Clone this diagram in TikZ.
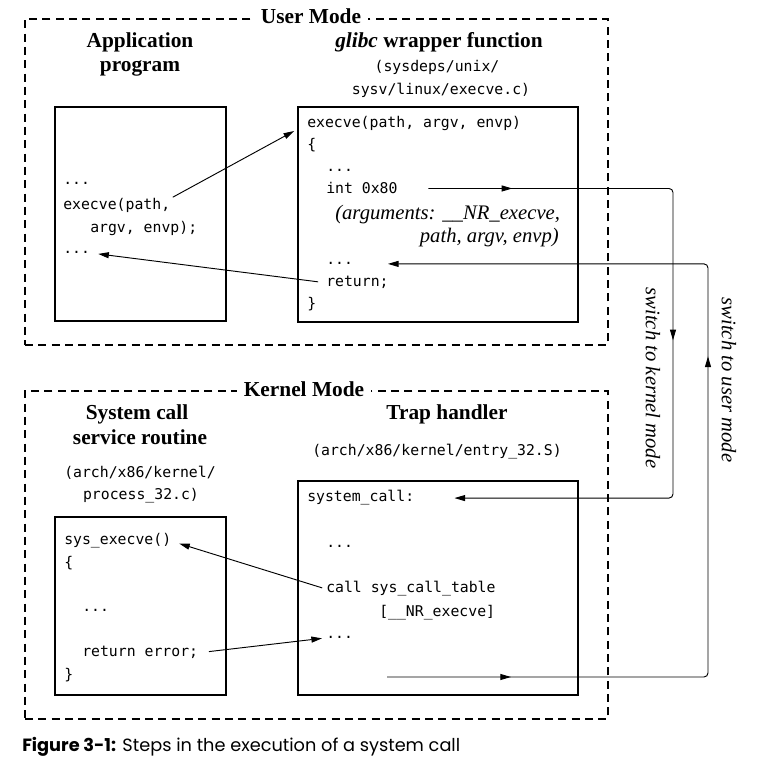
\documentclass[tikz,border=0pt]{standalone}
\usepackage{fontspec}
\setmainfont{Liberation Serif}
\newfontfamily\codefont{DejaVu Sans Mono}
\newfontfamily\capfont{Poppins}
\usetikzlibrary{arrows.meta,fit,decorations.markings}

\begin{document}
\begin{tikzpicture}[x=0.75pt,y=-0.75pt,>={Triangle[length=8pt,width=4.5pt]}]
  \tikzstyle{modebox}=[draw,dash pattern=on 6pt off 4pt,line width=1.3pt,inner sep=0pt]
  \tikzstyle{codebox}=[draw,line width=1.3pt,inner sep=0pt]
  \tikzstyle{title}=[fill=white,inner xsep=5pt,inner ysep=2pt,anchor=base,font=\bfseries\fontsize{16}{19}\selectfont]
  \tikzstyle{head}=[inner sep=0pt,anchor=base,font=\bfseries\fontsize{16}{19}\selectfont]
  \tikzstyle{src}=[inner sep=0pt,anchor=base,font=\codefont\fontsize{11.1}{13}\selectfont]
  \tikzstyle{code}=[inner sep=0pt,anchor=base west,font=\codefont\fontsize{11.1}{13}\selectfont]
  \tikzstyle{note}=[inner sep=0pt,font=\itshape\fontsize{15.5}{18}\selectfont]
  \tikzstyle{arr}=[line width=0.7pt,->]
  \tikzstyle{switch}=[line width=0.7pt,rounded corners=3pt,->,postaction={decorate}]
  \useasboundingbox (0,0) rectangle (769,766);
  % user and kernel mode frames
  \node[modebox,fit={(25,19) (608,345)}] (user) {};
  \node[modebox,fit={(25,391) (608,719)}] (kernel) {};
  \node[title] (usertitle) at (311,24) {User Mode};
  \node[title] (kerneltitle) at (304,397) {Kernel Mode};
  % boxes
  \node[codebox,fit={(55,107) (226,321)}] (app) {};
  \node[codebox,fit={(298,107) (578,322)}] (wrap) {};
  \node[codebox,fit={(55,517) (226,695)}] (sysbox) {};
  \node[codebox,fit={(298,481) (578,695)}] (trap) {};
  % headings
  \node[head] (apphead1) at (140,48) {Application};
  \node[head] (apphead2) at (140,72) {program};
  \node[head] (wraphead) at (439,48) {\textit{glibc} wrapper function};
  \node[src] (wrapsrc1) at (437,72) {(sysdeps/unix/};
  \node[src] (wrapsrc2) at (441,95) {sysv/linux/execve.c)};
  \node[head] (syshead1) at (137,420) {System call};
  \node[head] (syshead2) at (140,445) {service routine};
  \node[src] (syssrc1) at (140,478) {(arch/x86/kernel/};
  \node[src] (syssrc2) at (141,500) {process\_32.c)};
  \node[head] (traphead) at (447,420) {Trap handler};
  \node[src] (trapsrc) at (437,456) {(arch/x86/kernel/entry\_32.S)};
  % application program
  \node[code] (a1) at (63,185) {...};
  \node[code] (acall) at (63,210) {execve(path,};
  \node[code] (a3) at (90,233) {argv, envp);};
  \node[code] (aret) at (63,254) {...};
  % glibc wrapper
  \node[code] (w1) at (307,128) {execve(path, argv, envp)};
  \node[code] (w2) at (307,150) {\{};
  \node[code] (w3) at (326,172) {...};
  \node[code] (wint) at (326,194) {int 0x80};
  \node[note,anchor=base west] (args1) at (335,220) {(arguments: \_\_NR\_execve,};
  \node[note,anchor=base east] (args2) at (559,243) {path, argv, envp)};
  \node[code] (wdots) at (326,265) {...};
  \node[code] (wret) at (326,287) {return;};
  \node[code] (w9) at (307,309) {\}};
  % service routine
  \node[code] (s1) at (64,545) {sys\_execve()};
  \node[code] (s2) at (64,568) {\{};
  \node[code] (s3) at (82,612) {...};
  \node[code] (sret) at (82,657) {return error;};
  \node[code] (s5) at (64,680) {\}};
  % trap handler
  \node[code] (t1) at (307,502) {system\_call:};
  \node[code] (t2) at (326,548) {...};
  \node[code] (tcall) at (326,593) {call sys\_call\_table};
  \node[code] (t4) at (379,617) {[\_\_NR\_execve]};
  \node[code] (tdots) at (326,639) {...};
  % calls and returns
  \draw[arr,shorten <=2pt,shorten >=11pt] (acall.north east) -- (w1.west);
  \draw[arr,shorten <=6pt,shorten >=6pt] (wret.west) -- (aret.east);
  \draw[arr,shorten <=3pt,shorten >=6pt] (tcall.west) -- (s1.east);
  \draw[arr,shorten <=8pt,shorten >=3pt] (sret.east) -- (tdots.west);
  % mode switches
  \coordinate (kx) at (673,0);
  \coordinate (ux) at (708,0);
  \coordinate (trapout) at (387,677);
  \draw[switch,decoration={markings,mark=at position 0.109 with {\arrow{>}},mark=at position 0.513 with {\arrow{>}}}]
    ([xshift=23pt]wint.east) -- (kx |- wint.east) -- (kx |- t1.east) -- ([xshift=30pt]t1.east);
  \draw[switch,decoration={markings,mark=at position 0.118 with {\arrow{>}},mark=at position 0.609 with {\arrow{>}}}]
    (trapout) -- (ux |- trapout) -- (ux |- wdots.east) -- ([xshift=26pt]wdots.east);
  \node[note,rotate=-90] (kswitch) at (653,378) {switch to kernel mode};
  \node[note,rotate=-90] (uswitch) at (729,380) {switch to user mode};
  % caption
  \node[anchor=base west,inner sep=0pt,font=\capfont\fontsize{13.3}{15}\selectfont] (caption) at (22,752)
    {\textbf{Figure 3-1:} Steps in the execution of a system call};
\end{tikzpicture}
\end{document}
